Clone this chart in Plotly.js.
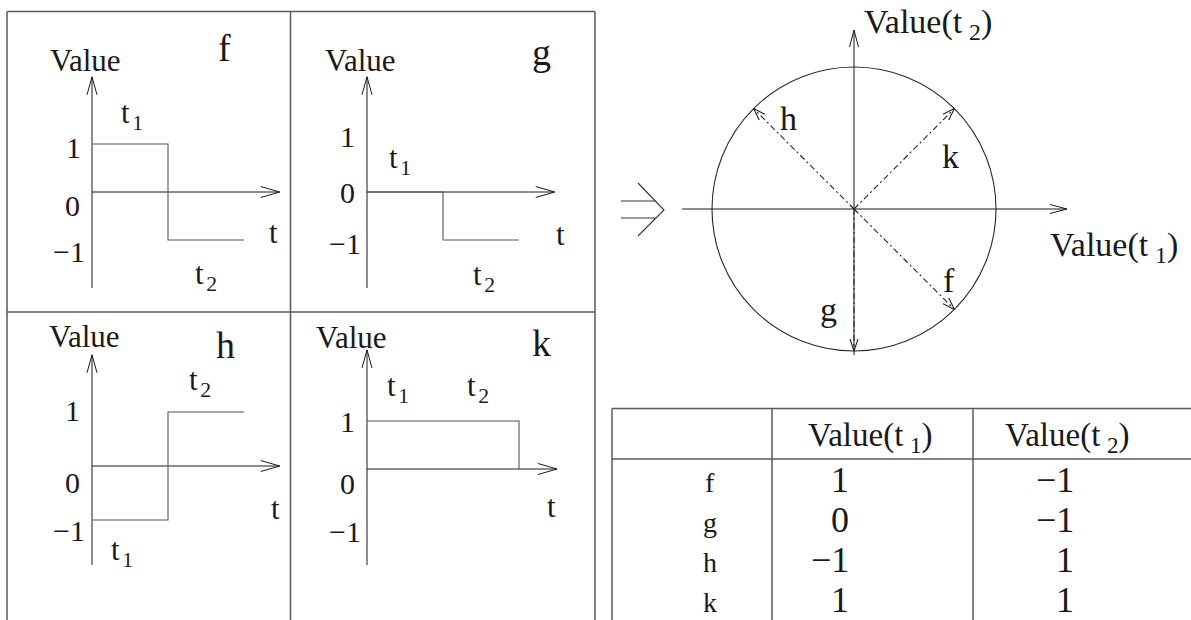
<!DOCTYPE html>
<html>
<head>
<meta charset="utf-8">
<script src="https://cdn.plot.ly/plotly-3.0.1.min.js"></script>
<style>
  html, body { margin: 0; padding: 0; background: #fff; }
  #chart { width: 1191px; height: 620px; }
</style>
</head>
<body>
<div id="chart"></div>
<script>
// ---- data -------------------------------------------------------------
// Four two-sample signals and their values at the instants t1 and t2
const signals = ['f', 'g', 'h', 'k'];
const valueT1 = [1, 0, -1, 1];
const valueT2 = [-1, -1, 1, 1];
// boundaries of the two sampling intervals on the time axis
const tEdges = [0, 1, 2];
// value-axis tick labels (1, 0, -1)
const tickLabels = ['1', '0', '\u22121'];
// table header
const headerLabels = ['Value(t\u2009<sub>1</sub>)', 'Value(t\u2009<sub>2</sub>)'];

// ---- page geometry ----------------------------------------------------
const W = 1191, H = 620;
const FONT = '"Liberation Serif", "Times New Roman", serif';
const INK = '#1a1a1a';
const AXIS = { color: '#1a1a1a', width: 1 };
const STEP = { color: '#555555', width: 1.1 };
const FRAME = { color: '#5a5a5a', width: 1.5 };

const px2x = p => p / W;
const py2y = p => 1 - p / H;

const traces = [];
const annotations = [];
const shapes = [];
const layout = {
  width: W, height: H,
  margin: { l: 0, r: 0, t: 0, b: 0 },
  paper_bgcolor: '#ffffff',
  plot_bgcolor: 'rgba(0,0,0,0)',
  showlegend: false,
  hovermode: false,
  font: { family: FONT, color: INK },
  annotations, shapes
};

// Every sub-diagram gets its own pair of axes spanning the whole page;
// ox/oy is where the data origin sits, ux/uy the pixels per data unit.
function addAxes(idx, ox, oy, ux, uy) {
  const xn = 'x' + idx, yn = 'y' + idx;
  layout['xaxis' + idx] = { domain: [0, 1], range: [-ox / ux, (W - ox) / ux],
    visible: false, fixedrange: true, anchor: yn };
  layout['yaxis' + idx] = { domain: [0, 1], range: [-(H - oy) / uy, oy / uy],
    visible: false, fixedrange: true, anchor: xn };
  return { x: xn, y: yn, ux, uy };
}

function line(x, y, ax, style, dash) {
  traces.push({
    type: 'scatter', mode: 'lines', x, y, xaxis: ax.x, yaxis: ax.y,
    line: { color: style.color, width: style.width, dash: dash || 'solid' },
    hoverinfo: 'skip', cliponaxis: false
  });
}

// open arrow head ending at (tx, ty), pointing along (dx, dy)
function head(ax, tx, ty, dx, dy, len, half, style) {
  const bx = tx - dx * len / ax.ux, by = ty - dy * len / ax.uy;
  const nx = -dy, ny = dx;
  line([bx + nx * half / ax.ux, tx, bx - nx * half / ax.ux],
       [by + ny * half / ax.uy, ty, by - ny * half / ax.uy], ax, style);
}

function label(ax, pos, text, size, extra) {
  annotations.push(Object.assign({
    xref: ax.x, yref: ax.y, x: pos[0], y: pos[1], text, showarrow: false,
    xanchor: 'center', yanchor: 'middle',
    font: { family: FONT, size, color: INK }
  }, extra || {}));
}

// ---- the four time-domain panels -------------------------------------
const panels = [
  { name: 'f', ox: 92, oy: 192, tu: 76, vu: 48, yTop: 2.4, yBot: -2.0, xTip: 2.47, closeEnd: false,
    pos: { value: [-0.09, 2.75], name: [1.74, 3.0], t1: [0.53, 1.6], t2: [1.5, -1.75], t: [2.39, -0.85],
           ticks: [[-0.24, 0.92], [-0.26, -0.29], [-0.3, -1.23]] } },
  { name: 'g', ox: 367, oy: 192, tu: 76, vu: 48, yTop: 2.4, yBot: -2.0, xTip: 2.47, closeEnd: false,
    pos: { value: [-0.08, 2.75], name: [2.29, 2.92], t1: [0.43, 0.67], t2: [1.54, -1.77], t: [2.54, -0.88],
           ticks: [[-0.26, 1.15], [-0.26, 0.0], [-0.29, -1.08]] } },
  { name: 'h', ox: 92, oy: 466, tu: 76, vu: 54, yTop: 2.06, yBot: -1.83, xTip: 2.47, closeEnd: false,
    pos: { value: [-0.1, 2.39], name: [1.76, 2.24], t1: [0.4, -1.6], t2: [1.42, 1.56], t: [2.42, -0.78],
           ticks: [[-0.26, 1.02], [-0.26, -0.31], [-0.3, -1.2]] } },
  { name: 'k', ox: 367, oy: 469, tu: 76, vu: 48, yTop: 2.48, yBot: -2.0, xTip: 2.5, closeEnd: true,
    pos: { value: [-0.2, 2.75], name: [2.3, 2.63], t1: [0.41, 1.69], t2: [1.46, 1.69], t: [2.43, -0.79],
           ticks: [[-0.26, 0.98], [-0.26, -0.31], [-0.29, -1.31]] } }
];

panels.forEach((p, i) => {
  const ax = addAxes(i + 1, p.ox, p.oy, p.tu, p.vu);
  const k = signals.indexOf(p.name);

  // time axis and value axis with open arrow heads
  line([0, p.xTip], [0, 0], ax, AXIS);
  line([0, 0], [p.yBot, p.yTop], ax, AXIS);
  head(ax, p.xTip, 0, 1, 0, 19, 5.5, AXIS);
  head(ax, 0, p.yTop, 0, 1, 18, 5, AXIS);

  // piecewise-constant signal: value at t1 on [0,1), value at t2 on [1,2)
  const sx = [tEdges[0], tEdges[1], tEdges[1], tEdges[2]];
  const sy = [valueT1[k], valueT1[k], valueT2[k], valueT2[k]];
  if (p.closeEnd) { sx.push(tEdges[2]); sy.push(0); }
  line(sx, sy, ax, STEP);

  label(ax, p.pos.value, 'Value', 31);
  label(ax, p.pos.name, p.name, 38);
  label(ax, p.pos.t1, 't\u200a<sub>1</sub>', 31);
  label(ax, p.pos.t2, 't\u200a<sub>2</sub>', 31);
  label(ax, p.pos.t, 't', 31);
  tickLabels.forEach((s, j) => label(ax, p.pos.ticks[j], s, 30));
});

// ---- signal space: (Value(t1), Value(t2)) plane ------------------------
const C = { ox: 854, oy: 209, u: 142, xMin: -1.21, xMax: 1.5, yMin: -1.03, yMax: 1.26 };
const cax = addAxes(5, C.ox, C.oy, C.u, C.u);
line([C.xMin, C.xMax], [0, 0], cax, AXIS);
line([0, 0], [C.yMin, C.yMax], cax, AXIS);
head(cax, C.xMax, 0, 1, 0, 17, 4.5, AXIS);
head(cax, 0, C.yMax, 0, 1, 17, 4.5, AXIS);

shapes.push({ type: 'circle', xref: 'x5', yref: 'y5', x0: -1, y0: -1, x1: 1, y1: 1,
  line: { color: '#2a2a2a', width: 1.1 }, layer: 'below' });

const vecLabelPos = { f: [0.67, -0.5], g: [-0.18, -0.71], h: [-0.46, 0.64], k: [0.68, 0.37] };
signals.forEach((s, k) => {
  const a = valueT1[k], b = valueT2[k];
  const n = Math.hypot(a, b);
  const ex = a / n, ey = b / n;
  line([0, ex], [0, ey], cax, { color: '#222', width: 1.1 }, '6px,3px,2px,3px');
  head(cax, ex, ey, ex, ey, 12, 4, { color: '#222', width: 1.1 });
  label(cax, vecLabelPos[s], s, 34);
});
label(cax, [0.056, 1.3], 'Value(t\u2009<sub>2</sub>)', 34, { xanchor: 'left' });
label(cax, [1.366, -0.27], 'Value(t\u2009<sub>1</sub>)', 34, { xanchor: 'left' });

// "implies" arrow between the panels and the signal plane
shapes.push({ type: 'path', xref: 'paper', yref: 'paper',
  path: `M${px2x(621)},${py2y(201)}L${px2x(655)},${py2y(201)}` +
        `M${px2x(621)},${py2y(218)}L${px2x(656)},${py2y(218)}` +
        `M${px2x(638)},${py2y(183)}L${px2x(664)},${py2y(210)}L${px2x(638)},${py2y(236)}`,
  line: { color: '#333', width: 1.1 } });

// ---- value table ------------------------------------------------------
// rows are one unit apart on their own axis, row 0 on top
const tax = addAxes(6, 0, 482, 1, 40);
const colLabelX = 710, colValueRight = [851, 1076], headerX = [870, 1067];
headerLabels.forEach((h, c) => {
  annotations.push({ xref: 'paper', yref: 'y6', x: px2x(headerX[c]), y: 1.12, text: h,
    showarrow: false, xanchor: 'center', yanchor: 'middle', font: { family: FONT, size: 33, color: INK } });
});
const fmt = v => (v < 0 ? '\u2212' : '') + Math.abs(v);
signals.forEach((s, i) => {
  annotations.push({ xref: 'paper', yref: 'y6', x: px2x(colLabelX), y: -i, text: s, showarrow: false,
    xanchor: 'center', yanchor: 'middle', font: { family: FONT, size: 28, color: INK } });
  [valueT1[i], valueT2[i]].forEach((v, c) => {
    annotations.push({ xref: 'paper', yref: 'y6', x: px2x(colValueRight[c]), y: -i + 0.05, text: fmt(v),
      showarrow: false, xanchor: 'right', yanchor: 'middle', font: { family: FONT, size: 36, color: INK } });
  });
});

// ---- frames -----------------------------------------------------------
function seg(x0, y0, x1, y1, style) {
  shapes.push({ type: 'line', xref: 'paper', yref: 'paper',
    x0: px2x(x0), y0: py2y(y0), x1: px2x(x1), y1: py2y(y1),
    line: { color: style.color, width: style.width } });
}
// 2 x 2 panel grid
seg(7, 11.5, 595, 11.5, FRAME);
seg(7, 11.5, 7, 625, FRAME);
seg(290.5, 11.5, 290.5, 625, FRAME);
seg(595, 11.5, 595, 625, FRAME);
seg(7, 312, 595, 312, FRAME);
// table rules
seg(612, 408.5, 1195, 408.5, FRAME);
seg(612, 408.5, 612, 625, FRAME);
seg(612, 459, 1195, 459, FRAME);
seg(772, 408.5, 772, 625, FRAME);
seg(973, 408.5, 973, 625, FRAME);

Plotly.newPlot('chart', traces, layout, { staticPlot: true, displayModeBar: false });
</script>
</body>
</html>
